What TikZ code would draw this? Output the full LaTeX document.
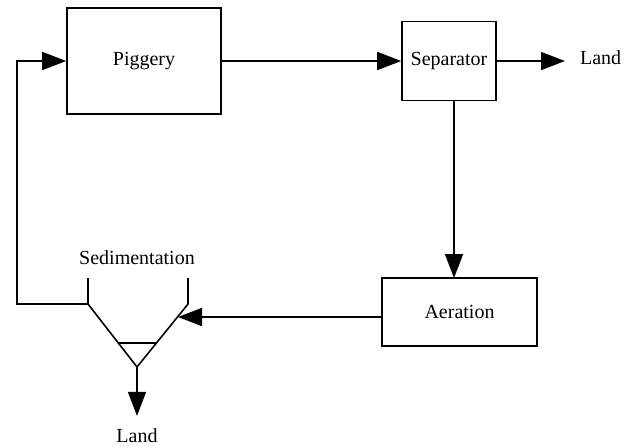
\documentclass[tikz,border=0pt]{standalone}
\usepackage{fontspec}
\setmainfont{Liberation Serif}
\usetikzlibrary{arrows.meta}
\tikzset{
	box/.style={draw, thick, font=\fontsize{10}{12}\selectfont},
	flow/.style={thick, -{Triangle[length=12pt, width=9pt]}},
	lbl/.style={font=\fontsize{10}{12}\selectfont}
}
\begin{document}
\begin{tikzpicture}[x=0.5pt, y=-0.5pt]
	\useasboundingbox (0,0) rectangle (630,447);
	\node[box, minimum width=77pt, minimum height=53pt] (pig) at (144,61) {Piggery};
	\node[box, minimum width=47pt, minimum height=39.5pt] (sep) at (449,61) {Separator};
	\node[box, minimum width=77.5pt, minimum height=34pt] (aer) at (459.5,312) {Aeration};
	\node[lbl, anchor=west] (land1) at (573,58) {Land};
	\node[lbl] (sed) at (137,258) {Sedimentation};
	\node[lbl] (land2) at (137,436) {Land};

	%Absetzbecken
	\coordinate (fl) at (88,278);%linke Wand oben
	\coordinate (fr) at (188,278);%rechte Wand oben
	\coordinate (fls) at (88,304);
	\coordinate (frs) at (188,304);
	\coordinate (ftip) at (137,367);%Spitze
	\coordinate (fin) at (178,317);%Einlauf
	\draw[thick] (fl) -- (fls) -- (ftip) -- (frs) -- (fr);
	\draw[thick] (118,343) -- (156,343);%Schlammgrenze

	\draw[flow] (pig.east) -- (sep.west);
	\draw[flow, shorten >=4pt] (sep.east) -- (sep.east -| land1.west);
	\draw[flow] (454,101) -- (454,278);
	\draw[flow] (aer.west |- fin) -- (fin);
	\draw[flow, shorten >=3pt] (ftip) -- (land2.north);
	\draw[flow] (fls) -- (17,304) -- (17,61) -- (pig.west);%Rueckfuehrung
\end{tikzpicture}
\end{document}
